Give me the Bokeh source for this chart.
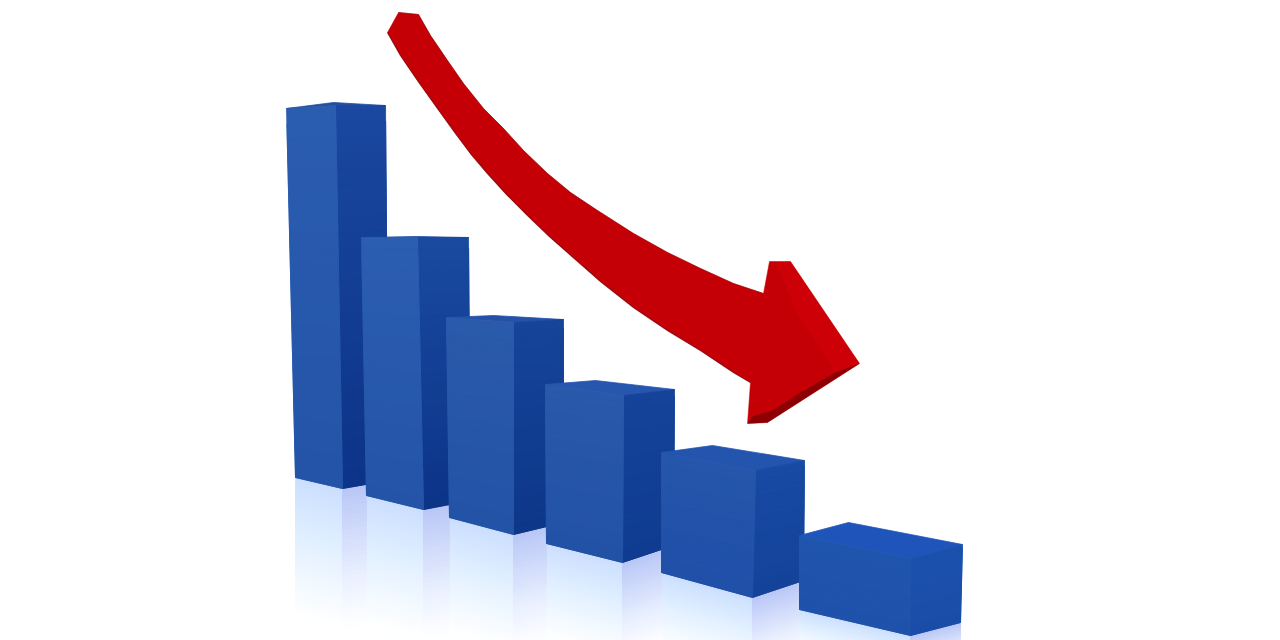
from bokeh.plotting import figure
from bokeh.models import Range1d
from bokeh.embed import file_html
from bokeh.resources import INLINE

# Bars (screen pixels, y downwards)
front_left_x_top = [286, 361, 446, 545, 661, 799]
front_left_x_bot = [295, 366, 449, 546, 661, 799]
edge_x_top = [335, 417, 513, 623, 755, 910]
edge_x_bot = [342, 423, 513, 622, 752, 910]
right_x_top = [385, 468, 563, 674, 804, 962]
right_x_bot = [388, 470, 563, 673, 803, 960]
left_y_top = [108, 237, 317, 384, 452, 535]
edge_y_top = [105, 237, 322, 395, 470, 558]
right_y_top = [105, 237, 319, 389, 460, 544]
back_x = [333, 417, 493, 595, 712, 848]
back_y = [102, 236, 315, 380, 445, 522]
left_y_bot = [477, 495, 517, 543, 572, 609]
edge_y_bot = [488, 509, 534, 562, 597, 635]
right_y_bot = [480, 500, 522, 545, 580, 622]
reflection_length = [140, 130, 115, 95, 75, 40]

front_top_col = ["#2a5cb0", "#2b5db0", "#2b5aab", "#2a58aa", "#2456ab", "#2055ae"]
front_bot_col = ["#2354a8", "#2354a8", "#2353a6", "#2252a6", "#2050a8", "#1f52ab"]
right_top_col = ["#1a479f", "#194aa0", "#164499", "#15439a", "#174aa4", "#1b51ad"]
right_bot_col = ["#0c3488", "#0c3488", "#0d3789", "#0f3c90", "#144399", "#1a4da8"]
top_col = ["#234ea0", "#1e4a9e", "#2552a8", "#2656ae", "#2354ae", "#1f55ba"]

# Arrow outline
upper_x = [398, 418, 430, 447, 463, 483, 503, 523, 547, 570, 597, 633, 667, 700, 733, 763]
upper_y = [12, 14, 35, 60, 83, 108, 128, 150, 173, 192, 210, 233, 252, 268, 283, 293]
head_x = [769, 790, 859, 767, 747, 750]
head_y = [261, 261, 363, 422, 423, 382]
lower_x = [733, 700, 667, 633, 600, 575, 550, 527, 507, 487, 470, 455, 437, 417, 400, 387]
lower_y = [372, 350, 330, 307, 281, 259, 237, 215, 195, 173, 153, 133, 108, 80, 55, 32]
arrow_col = "#c40006"
head_light_x = [775, 790, 859, 835, 800]
head_light_y = [262, 261, 363, 372, 320]
rim_x = [859, 767, 747, 752, 772, 800, 835]
rim_y = [363, 422, 423, 416, 410, 392, 372]


def h2c(h):
    return [int(h[i:i + 2], 16) for i in (1, 3, 5)]


def mix(a, b, t):
    ca, cb = h2c(a), h2c(b)
    return "#%02x%02x%02x" % tuple(round(u + (v - u) * t) for u, v in zip(ca, cb))


def stops(cols, t):
    n = len(cols) - 1
    i = min(int(t * n), n - 1)
    return mix(cols[i], cols[i + 1], t * n - i)


xs, ys, cs = [], [], []


def quad(x1, y1, x2, y2, x3, y3, x4, y4, cols, n=24):
    """Top edge (1-2), bottom edge (4-3), graded top to bottom; strips overlap to hide seams."""
    for k in range(n):
        a, b = k / n, min(1, (k + 2) / n)
        xs.append([x1 + (x4 - x1) * a, x2 + (x3 - x2) * a, x2 + (x3 - x2) * b, x1 + (x4 - x1) * b])
        ys.append([y1 + (y4 - y1) * a, y2 + (y3 - y2) * a, y2 + (y3 - y2) * b, y1 + (y4 - y1) * b])
        cs.append(stops(cols, (k + 0.5) / n))


FRONT_REFL = ["#cbdeff", "#dcecff", "#eef7ff", "#ffffff"]
SIDE_REFL = ["#b8c6f6", "#d2dcfb", "#ebf1ff", "#ffffff"]

# floor reflections first
for i in range(6):
    L = reflection_length[i]
    quad(front_left_x_bot[i], left_y_bot[i], edge_x_bot[i], edge_y_bot[i],
         edge_x_bot[i], edge_y_bot[i] + L, front_left_x_bot[i], left_y_bot[i] + L, FRONT_REFL, 30)
for i in range(6):
    L = reflection_length[i]
    nx = front_left_x_bot[i + 1] if i < 5 else right_x_bot[i]
    ny = right_y_bot[i] if i == 5 else edge_y_bot[i] - (edge_y_bot[i] - right_y_bot[i]) * (nx - edge_x_bot[i]) / (right_x_bot[i] - edge_x_bot[i])
    quad(edge_x_bot[i], edge_y_bot[i], nx, ny, nx, ny + L, edge_x_bot[i], edge_y_bot[i] + L, SIDE_REFL, 30)

# bars, back to front
for i in range(6):
    xs.append([front_left_x_top[i], back_x[i], right_x_top[i], edge_x_top[i]])
    ys.append([left_y_top[i], back_y[i], right_y_top[i], edge_y_top[i]])
    cs.append(top_col[i])
    quad(edge_x_top[i], edge_y_top[i], right_x_top[i], right_y_top[i],
         right_x_bot[i], right_y_bot[i], edge_x_bot[i], edge_y_bot[i],
         [right_top_col[i], right_bot_col[i]])
    quad(front_left_x_top[i], left_y_top[i], edge_x_top[i], edge_y_top[i],
         edge_x_bot[i], edge_y_bot[i], front_left_x_bot[i], left_y_bot[i],
         [front_top_col[i], front_bot_col[i]])

p = figure(width=1280, height=640, output_backend="svg", toolbar_location=None,
           x_range=Range1d(0, 1280), y_range=Range1d(640, 0),
           min_border=0, outline_line_color=None, background_fill_color="white")
p.axis.visible = False
p.grid.visible = False

p.patches(xs, ys, fill_color=cs, line_color=cs, line_width=0.8)
p.patch(upper_x + head_x + lower_x, upper_y + head_y + lower_y,
        fill_color=arrow_col, line_color=arrow_col, line_width=0.5, line_join="round")
p.line(head_x[-1:] + lower_x, head_y[-1:] + lower_y, line_color="#7d0005", line_width=1.2, line_alpha=0.7, line_join="round")
p.line(upper_x, upper_y, line_color="#8d0005", line_width=1, line_alpha=0.5, line_join="round")
p.patch(head_light_x, head_light_y, fill_color="#d60006", fill_alpha=0.45, line_color=None)
p.patch(rim_x, rim_y, fill_color="#7a0004", fill_alpha=0.75, line_color=None)

open("out.html", "w").write(file_html(p, INLINE))
